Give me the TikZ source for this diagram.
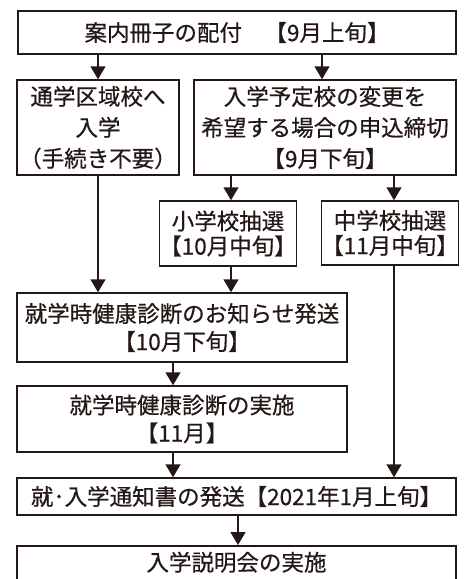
\documentclass[tikz,border=0pt]{standalone}
\usepackage{fontspec}
\setmainfont{Noto Sans CJK JP}[FakeBold=0.6]
\usetikzlibrary{arrows.meta}
\definecolor{ink}{HTML}{231815}
\begin{document}
\begin{tikzpicture}[x=1pt,y=1pt,
  box/.style={draw=ink, line width=1.5pt, text=ink, align=center, inner sep=0pt,
    font=\fontsize{22.5}{28}\selectfont},
  arr/.style={draw=ink, line width=1.5pt, -{Triangle[width=15pt,length=13pt]}}]
\useasboundingbox (0,0) rectangle (473,-579);
\clip (0,0) rectangle (473,-579);
\node[box, minimum width=438pt, minimum height=43pt] (b1) at (237,-32.5) {案内冊子の配付　【9月上旬】};
\node[box, minimum width=162pt, minimum height=95pt, font=\fontsize{22.5}{31}\selectfont] (left) at (98,-127.5) {通学区域校へ\\入学\\（手続き不要）};
\node[box, minimum width=262pt, minimum height=95pt, font=\fontsize{22.5}{31}\selectfont] (right) at (325,-127.5) {入学予定校の変更を\\希望する場合の申込締切\\【9月下旬】};
\node[box, minimum width=128pt, minimum height=65pt, font=\fontsize{22.5}{25}\selectfont] (s1) at (228,-233.5) {小学校抽選\\【10月中旬】};
\node[box, minimum width=130pt, minimum height=64pt, font=\fontsize{22.5}{25}\selectfont] (s2) at (390,-233) {中学校抽選\\【11月中旬】};
\node[box, minimum width=330pt, minimum height=69pt] (b4) at (182,-327.5) {就学時健康診断のお知らせ発送\\【10月下旬】};
\node[box, minimum width=330pt, minimum height=66pt] (b5) at (182,-419) {就学時健康診断の実施\\【11月】};
\node[box, minimum width=439pt, minimum height=37pt] (b6) at (236.5,-496.5) {就･入学通知書の発送【2021年1月上旬】};
\node[box, minimum width=439pt, anchor=north, text height=16pt, text depth=40pt, inner ysep=9pt] (b7) at (236.5,-545) {入学説明会の実施};
\draw[arr] (b1.south -| left.north) -- (left.north);
\draw[arr] ([xshift=-3pt]b1.south -| right.north) -- ([xshift=-3pt]right.north);
\draw[arr] (left.south) -- (left.south |- b4.north);
\draw[arr] ([xshift=3pt]right.south -| s1.north) -- ([xshift=3pt]s1.north);
\draw[arr] ([xshift=4pt]right.south -| s2.north) -- ([xshift=4pt]s2.north);
\draw[arr] ([xshift=3pt]s1.south) -- ([xshift=3pt]s1.south |- b4.north);
\draw[arr] ([xshift=-9pt]b4.south) -- ([xshift=-9pt]b5.north);
\draw[arr] ([xshift=-9pt]b5.south) -- ([xshift=-9pt]b5.south |- b6.north);
\draw[arr] ([xshift=4pt]s2.south) -- ([xshift=4pt]s2.south |- b6.north);
\draw[arr] ([xshift=1.5pt]b6.south) -- ([xshift=1.5pt]b7.north);
\end{tikzpicture}
\end{document}
